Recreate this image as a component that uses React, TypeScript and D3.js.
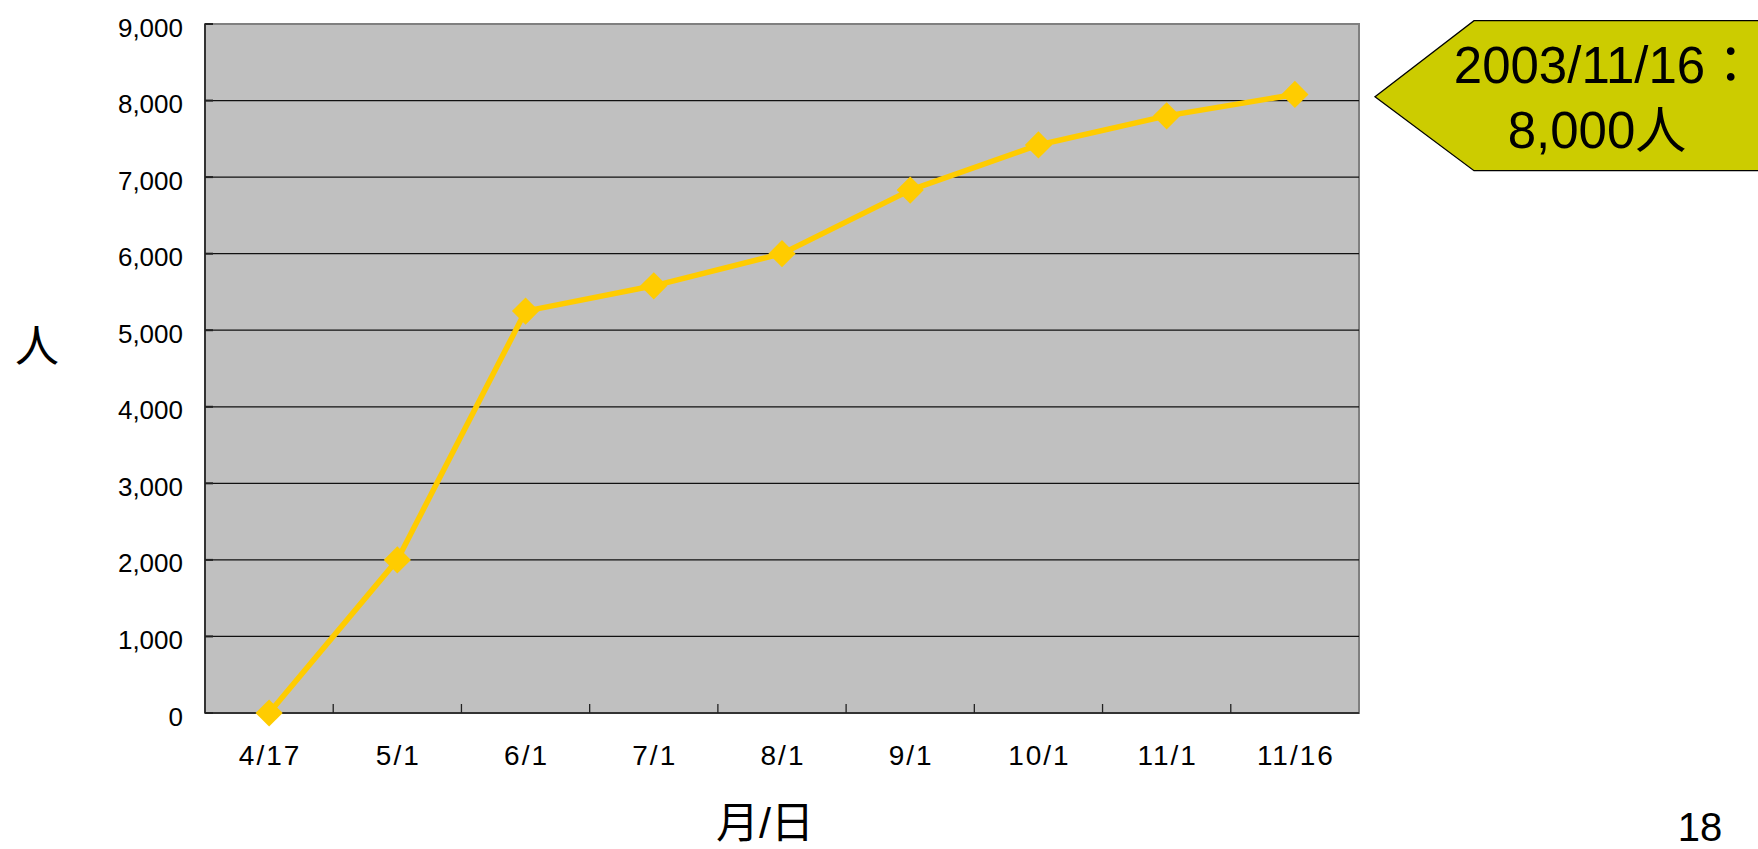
import * as d3 from "d3";

const categories = ["4/17", "5/1", "6/1", "7/1", "8/1", "9/1", "10/1", "11/1", "11/16"];
const members = [0, 2000, 5250, 5580, 6000, 6830, 7420, 7800, 8080];
const yTicks = [0, 1000, 2000, 3000, 4000, 5000, 6000, 7000, 8000, 9000];

const width = 1758;
const height = 849;
const plot = { left: 205, right: 1359, top: 24, bottom: 713 };
const font = "'Liberation Sans', Arial, 'Noto Sans CJK JP', sans-serif";
const cjkFont = "'Noto Sans CJK JP', 'Noto Sans CJK SC', sans-serif";

const App = () => {
  const x = d3.scaleBand().domain(categories).range([plot.left, plot.right]);
  const y = d3.scaleLinear().domain([0, 9000]).range([plot.bottom, plot.top]);
  const cx = (c: string) => (x(c) ?? 0) + x.bandwidth() / 2;

  const line = d3
    .line<number>()
    .x((_, i) => cx(categories[i]))
    .y((d) => y(d));

  const diamond = d3.symbol().type(d3.symbolSquare).size(370)();
  const fmt = d3.format(",");

  return (
    <svg
      width={width}
      height={height}
      style={{ position: "absolute", left: 0, top: 0, background: "#fff" }}
    >
      {/* plot area */}
      <rect
        x={plot.left}
        y={plot.top}
        width={plot.right - plot.left}
        height={plot.bottom - plot.top}
        fill="#c0c0c0"
        stroke="#808080"
        strokeWidth={2}
      />

      {/* gridlines */}
      {yTicks.slice(1, -1).map((t) => (
        <line
          key={t}
          x1={plot.left}
          x2={plot.right}
          y1={y(t)}
          y2={y(t)}
          stroke="#111"
          strokeWidth={1.3}
        />
      ))}

      {/* axes */}
      <line x1={plot.left} x2={plot.left} y1={plot.top} y2={plot.bottom} stroke="#333" strokeWidth={2} />
      <line x1={plot.left} x2={plot.right} y1={plot.bottom} y2={plot.bottom} stroke="#333" strokeWidth={2} />
      {yTicks.map((t) => (
        <line key={t} x1={plot.left} x2={plot.left + 8} y1={y(t)} y2={y(t)} stroke="#222" strokeWidth={2} />
      ))}
      {categories.slice(1).map((c) => (
        <line
          key={c}
          x1={x(c)}
          x2={x(c)}
          y1={plot.bottom}
          y2={plot.bottom - 9}
          stroke="#222"
          strokeWidth={1.3}
        />
      ))}

      {/* y tick labels */}
      {yTicks.map((t) => (
        <text
          key={t}
          x={183}
          y={y(t) + 12.5}
          textAnchor="end"
          fontFamily={font}
          fontSize={26}
          fill="#000"
        >
          {fmt(t)}
        </text>
      ))}

      {/* x tick labels */}
      {categories.map((c) => (
        <text
          key={c}
          x={cx(c) + 1}
          y={765}
          textAnchor="middle"
          fontFamily={font}
          fontSize={28}
          letterSpacing={2}
          fill="#000"
        >
          {c}
        </text>
      ))}

      {/* series */}
      <path d={line(members) ?? ""} fill="none" stroke="#ffcc00" strokeWidth={5.5} strokeLinejoin="round" />
      {members.map((v, i) => (
        <path
          key={categories[i]}
          d={diamond ?? ""}
          transform={`translate(${cx(categories[i])},${y(v)}) rotate(45)`}
          fill="#ffcc00"
        />
      ))}

      {/* axis titles */}
      <text x={37} y={362} textAnchor="middle" fontFamily={cjkFont} fontSize={44} fill="#000">
        人
      </text>
      <text x={765} y={838} textAnchor="middle" fontFamily={font} fontSize={43} fill="#000">
        月/日
      </text>
      <text x={1700} y={841} textAnchor="middle" fontFamily={font} fontSize={40} fill="#000">
        18
      </text>

      {/* callout */}
      <polygon
        points="1375,96.7 1474,20.7 1762,20.7 1762,170.7 1474,170.7"
        fill="#cccc00"
        stroke="#000"
        strokeWidth={1.3}
      />
      <text x={1605} y={83} textAnchor="middle" fontFamily={font} fontSize={51} fill="#000">
        2003/11/16：
      </text>
      <text x={1597} y={148} textAnchor="middle" fontFamily={font} fontSize={51} fill="#000">
        8,000人
      </text>
    </svg>
  );
};

export default App;
